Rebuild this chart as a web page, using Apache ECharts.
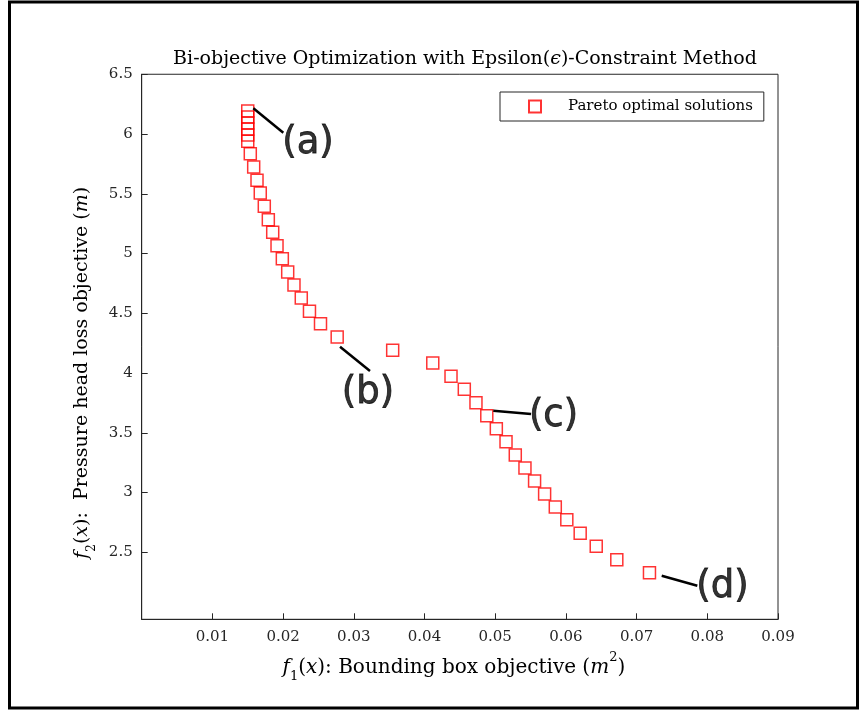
<!DOCTYPE html>
<html>
<head>
<meta charset="utf-8">
<script src="https://cdn.jsdelivr.net/npm/echarts@6/dist/echarts.min.js"></script>
<style>html,body{margin:0;padding:0;background:#fff}#c{width:861px;height:711px}</style>
</head>
<body>
<div id="c"></div>
<script>
// Pareto front values
const f1Values = [0.0150,0.0150,0.0150,0.0150,0.0150,0.0150,
  0.01536,0.01584,0.01631,0.01677,0.01734,0.01791,0.01853,0.01914,0.01989,0.02065,0.02154,0.02257,0.02373,0.02529,0.02765,
  0.0355,0.04117,0.04375,0.04563,0.04728,0.04881,0.05016,0.05153,0.05284,0.05421,0.05557,0.05699,0.0585,0.06013,0.06202,0.06429,0.0672,0.07182];
const f2Values = [6.192,6.142,6.092,6.042,5.992,5.939,
  5.834,5.724,5.613,5.506,5.395,5.283,5.177,5.065,4.956,4.845,4.736,4.628,4.517,4.412,4.301,
  4.190,4.084,3.972,3.864,3.751,3.643,3.534,3.425,3.314,3.205,3.096,2.987,2.879,2.772,2.660,2.550,2.438,2.328];
const xTicks = [0.01,0.02,0.03,0.04,0.05,0.06,0.07,0.08,0.09];
const yTicks = [2.5,3,3.5,4,4.5,5,5.5,6,6.5];
// annotation callouts (data units): label, line start, line end, text position
const annLabels = ['(a)','(b)','(c)','(d)'];
const annLineStart = [[0.01579,6.215],[0.02805,4.220],[0.04973,3.685],[0.07355,2.304]];
const annLineEnd = [[0.02003,6.011],[0.03229,4.017],[0.05506,3.657],[0.07859,2.220]];
const annTextPos = [[0.02352,5.925],[0.03201,3.830],[0.05825,3.640],[0.08215,2.210]];

const serif = '"DejaVu Serif",serif';
const axisColor = '#262626';
const chart = echarts.init(document.getElementById('c'), null, {renderer:'canvas'});

const points = f1Values.map((x,i)=>[x,f2Values[i]]);
const series = [{
  name:'Pareto optimal solutions', type:'scatter', data:points, symbol:'rect', symbolSize:12,
  itemStyle:{color:'rgba(255,255,255,0)', borderColor:'#ff0000', borderWidth:1.5},
  emphasis:{disabled:true}, z:5
}];
annLabels.forEach((lab,i)=>{
  series.push({type:'line', data:[annLineStart[i], annLineEnd[i]], symbol:'none',
    lineStyle:{color:'#000', width:2.5}, silent:true, z:6});
  series.push({type:'scatter', data:[annTextPos[i]], symbolSize:0, silent:true, z:7,
    label:{show:true, position:'inside', formatter:lab, fontFamily:'"DejaVu Sans",sans-serif', fontSize:37,
      color:'#000', textBorderColor:'#000', textBorderWidth:0.8}});
});

chart.setOption({
  animation:false,
  backgroundColor:'#fff',
  title:{text:'Bi-objective Optimization with Epsilon({e|ϵ})-Constraint Method', left:460, textAlign:'center', top:45,
    textStyle:{fontFamily:serif, fontSize:19, fontWeight:'normal', color:'#000',
      rich:{e:{fontFamily:serif, fontSize:19, fontStyle:'italic', color:'#000'}}}},
  legend:{data:[{name:'Pareto optimal solutions'}], left:500, top:92, orient:'vertical',
    backgroundColor:'#fff', borderColor:axisColor, borderWidth:1, borderRadius:0,
    padding:[7,11,7,28], itemWidth:12, itemHeight:12,
    textStyle:{fontFamily:serif, fontSize:15, color:'#000', padding:[0,0,0,22]}},
  grid:{left:141.7, right:83, top:74.25, bottom:91.7, show:true, borderColor:axisColor, borderWidth:1, backgroundColor:'transparent'},
  xAxis:{type:'value', min:0, max:0.09,
    name:'{i|f}{s|1}({i|x}): Bounding box objective ({i|m}{p|2})', nameLocation:'middle', nameGap:38,
    nameTextStyle:{fontFamily:serif, fontSize:20, color:'#000', padding:[0,12,0,0],
      rich:{i:{fontFamily:serif,fontSize:20,fontStyle:'italic'}, s:{fontFamily:serif,fontSize:13,verticalAlign:'bottom',padding:[0,0,-6,0]}, p:{fontFamily:serif,fontSize:13,verticalAlign:'top',padding:[-6,0,0,0]}}},
    axisLine:{show:true, lineStyle:{color:axisColor, width:1}},
    axisTick:{show:true, inside:true, length:6, lineStyle:{color:axisColor}, customValues:xTicks},
    axisLabel:{customValues:xTicks, fontFamily:serif, fontSize:15, color:axisColor, margin:10,
      formatter:v=>String(+v.toFixed(2))},
    splitLine:{show:false}},
  yAxis:{type:'value', min:1.939, max:6.5,
    name:'{i|f}{s|2}({i|x}):  Pressure head loss objective ({i|m})', nameLocation:'middle', nameGap:46,
    nameTextStyle:{fontFamily:serif, fontSize:19, color:'#000', padding:[0,52,0,0],
      rich:{i:{fontFamily:serif,fontSize:19,fontStyle:'italic'}, s:{fontFamily:serif,fontSize:12,verticalAlign:'bottom',padding:[0,0,-6,0]}}},
    axisLine:{show:true, lineStyle:{color:axisColor, width:1}},
    axisTick:{show:true, inside:true, length:6, lineStyle:{color:axisColor}, customValues:yTicks},
    axisLabel:{customValues:yTicks, fontFamily:serif, fontSize:15, color:axisColor, margin:9,
      formatter:v=>String(+v.toFixed(1))},
    splitLine:{show:false}},
  graphic:[{type:'rect', shape:{x:9.5, y:2, width:848, height:706}, style:{fill:'none', stroke:'#000', lineWidth:3}, silent:true, z:100}],
  series:series
});
</script>
</body>
</html>
